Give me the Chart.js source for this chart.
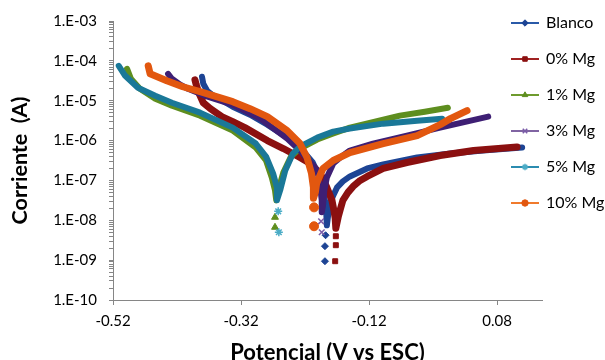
<!DOCTYPE html>
<html><head><meta charset="utf-8">
<script src="https://cdn.jsdelivr.net/npm/chart.js@4.4.1/dist/chart.umd.min.js"></script>
<style>html,body{margin:0;padding:0;background:#fff;}canvas{display:block;}</style>
</head><body>
<canvas id="c" width="605" height="360"></canvas>
<script>
const seriesNames = ['Blanco', '0% Mg', '1% Mg', '3% Mg', '5% Mg', '10% Mg'];
const xTickLabels = ['-0.52', '-0.32', '-0.12', '0.08'];
const yTickLabels = ['1.E-10', '1.E-09', '1.E-08', '1.E-07', '1.E-06', '1.E-05', '1.E-04', '1.E-03'];
const xTitle = 'Potencial (V vs ESC)';
const yTitle = 'Corriente  (A)';

// [potential (V), current (A)]
const blancoCathodic = [[-0.381,3.98e-5],[-0.379,2.66e-5],[-0.373,1.78e-5],[-0.365,1.41e-5],[-0.333,7.08e-6],[-0.306,4.47e-6],[-0.279,2.51e-6],[-0.248,1.19e-6],[-0.233,8.41e-7],[-0.208,2.82e-7],[-0.197,1.19e-7],[-0.192,6.31e-8],[-0.189,3.16e-8],[-0.187,1.58e-8],[-0.186,7.5e-9]];
const blancoAnodic = [[-0.184,1.33e-8],[-0.181,2.66e-8],[-0.176,4.22e-8],[-0.170,6.68e-8],[-0.161,9.44e-8],[-0.150,1.26e-7],[-0.123,2.0e-7],[-0.098,2.51e-7],[-0.045,3.76e-7],[0.007,4.73e-7],[0.058,5.62e-7],[0.119,6.68e-7]];
const blancoTail = [[-0.188,4.22e-9],[-0.189,2.24e-9],[-0.189,9.4e-10]];

const mg0Cathodic = [[-0.392,3.35e-5],[-0.390,2.51e-5],[-0.386,1.58e-5],[-0.379,8.91e-6],[-0.368,6.31e-6],[-0.350,3.98e-6],[-0.333,2.99e-6],[-0.314,2.11e-6],[-0.279,1.0e-6],[-0.254,6.31e-7],[-0.228,3.76e-7],[-0.212,2.66e-7],[-0.201,1.78e-7],[-0.193,1.19e-7],[-0.186,6.68e-8],[-0.178,3.16e-8],[-0.175,1.78e-8],[-0.173,1.12e-8],[-0.172,6.31e-9]];
const mg0Anodic = [[-0.168,1.26e-8],[-0.165,1.88e-8],[-0.161,3.16e-8],[-0.153,5.01e-8],[-0.145,7.08e-8],[-0.134,1.0e-7],[-0.123,1.26e-7],[-0.098,2.0e-7],[-0.061,2.82e-7],[-0.009,4.22e-7],[0.043,5.62e-7],[0.111,6.88e-7]];
const mg0Tail = [[-0.172,3.98e-9],[-0.172,2.37e-9],[-0.173,9.4e-10]];

const mg1Cathodic = [[-0.498,6.31e-5],[-0.492,3.55e-5],[-0.478,2.0e-5],[-0.454,1.12e-5],[-0.428,7.5e-6],[-0.384,4.22e-6],[-0.333,1.78e-6],[-0.297,6.68e-7],[-0.281,3.16e-7],[-0.272,1.19e-7],[-0.267,5.62e-8],[-0.265,3.16e-8]];
const mg1Anodic = [[-0.262,5.62e-8],[-0.254,1.58e-7],[-0.242,3.98e-7],[-0.228,6.31e-7],[-0.201,1.06e-6],[-0.176,1.5e-6],[-0.150,2.11e-6],[-0.111,2.99e-6],[-0.072,4.22e-6],[-0.033,5.31e-6],[0.003,6.68e-6]];
const mg1Tail = [[-0.267,1.19e-8],[-0.267,6.68e-9]];

const mg3Cathodic = [[-0.434,4.73e-5],[-0.428,3.55e-5],[-0.415,2.51e-5],[-0.403,2.0e-5],[-0.376,1.33e-5],[-0.333,7.94e-6],[-0.290,3.55e-6],[-0.248,1.12e-6],[-0.228,5.62e-7],[-0.217,3.55e-7],[-0.201,1.78e-7],[-0.197,8.41e-8],[-0.194,3.16e-8],[-0.194,1.58e-8]];
const mg3Anodic = [[-0.192,2.37e-8],[-0.190,5.62e-8],[-0.186,1.19e-7],[-0.176,2.66e-7],[-0.165,3.76e-7],[-0.150,5.62e-7],[-0.114,8.41e-7],[-0.061,1.33e-6],[-0.009,2.11e-6],[0.066,3.98e-6]];
const mg3Tail = [[-0.195,9.44e-9],[-0.194,5.01e-9]];

const mg5Cathodic = [[-0.511,7.5e-5],[-0.501,4.22e-5],[-0.481,2.11e-5],[-0.454,1.33e-5],[-0.428,8.91e-6],[-0.384,5.01e-6],[-0.333,2.11e-6],[-0.297,8.41e-7],[-0.281,3.98e-7],[-0.270,1.5e-7],[-0.264,6.68e-8],[-0.264,3.16e-8]];
const mg5Anodic = [[-0.259,5.62e-8],[-0.251,1.78e-7],[-0.239,4.73e-7],[-0.228,7.08e-7],[-0.201,1.19e-6],[-0.176,1.68e-6],[-0.150,2.0e-6],[-0.098,2.66e-6],[-0.045,3.16e-6],[-0.006,3.55e-6]];
const mg5Tail = [[-0.262,1.68e-8],[-0.261,5.01e-9]];

const mg10Cathodic = [[-0.465,7.5e-5],[-0.462,4.73e-5],[-0.436,3.16e-5],[-0.411,2.24e-5],[-0.384,1.68e-5],[-0.333,9.44e-6],[-0.306,6.31e-6],[-0.279,3.98e-6],[-0.248,1.78e-6],[-0.228,8.41e-7],[-0.217,3.76e-7],[-0.210,1.5e-7],[-0.207,6.68e-8],[-0.207,3.55e-8]];
const mg10Anodic = [[-0.204,5.01e-8],[-0.202,8.41e-8],[-0.192,2.0e-7],[-0.176,3.16e-7],[-0.150,5.01e-7],[-0.098,8.41e-7],[-0.045,1.33e-6],[-0.009,2.51e-6],[0.007,3.55e-6],[0.033,5.62e-6]];
const mg10Tail = [[-0.206,2.11e-8],[-0.206,7.08e-9]];

// ---- styles ----
const bandColors = ['#1D4494', '#8B1010', '#5E8E1F', '#3E1F74', '#1A7898', '#E2570F'];
const bandWidths = [6, 7, 6, 6, 6, 7];
const legendLineColors = ['#2A5AA8', '#A02222', '#6E9B2E', '#8064A2', '#2B8CB0', '#F07A2C'];
const markerStyles = ['rectRot', 'rect', 'triangle', 'crossRot', 'star', 'circle'];
const markerFill = ['#1D4494', '#8B1010', '#5E8E1F', '#7A5CA8', '#4BACC6', '#E2570F'];
const markerStroke = ['#1D4494', '#8B1010', '#5E8E1F', '#7A5CA8', '#4BACC6', '#E2570F'];
const markerRadius = [3.5, 3.5, 4, 4, 4, 4.5];
const markerBorderW = [1, 1, 1, 1.5, 1.5, 1];
const FONT = 'Lato, "Liberation Sans", sans-serif';

const branches = [
  [blancoCathodic, blancoAnodic, blancoTail],
  [mg0Cathodic, mg0Anodic, mg0Tail],
  [mg1Cathodic, mg1Anodic, mg1Tail],
  [mg3Cathodic, mg3Anodic, mg3Tail],
  [mg5Cathodic, mg5Anodic, mg5Tail],
  [mg10Cathodic, mg10Anodic, mg10Tail]
];

function makeDataset(i) {
  const [cath, anod, tail] = branches[i];
  const band = cath.concat(anod);
  const nBand = band.length;
  const pts = band.concat(tail).map(p => ({x: p[0], y: p[1]}));
  return {
    label: seriesNames[i],
    data: pts,
    order: seriesNames.length - i,
    showLine: true,
    tension: 0,
    borderColor: bandColors[i],
    backgroundColor: markerFill[i],
    borderWidth: bandWidths[i],
    borderCapStyle: 'round',
    borderJoinStyle: 'round',
    pointStyle: markerStyles[i],
    pointRadius: ctx => (ctx.dataIndex >= nBand ? markerRadius[i] : 0),
    pointHoverRadius: 0,
    pointBackgroundColor: markerFill[i],
    pointBorderColor: markerStroke[i],
    pointBorderWidth: markerBorderW[i],
    segment: {
      borderColor: ctx => (ctx.p1DataIndex >= nBand ? 'rgba(0,0,0,0)' : undefined)
    }
  };
}

function legendIcon(i) {
  const c = document.createElement('canvas');
  c.width = 28; c.height = 12;
  const g = c.getContext('2d');
  g.strokeStyle = legendLineColors[i];
  g.lineWidth = 2;
  g.beginPath(); g.moveTo(0, 6); g.lineTo(28, 6); g.stroke();
  g.fillStyle = markerFill[i];
  g.strokeStyle = markerStroke[i];
  g.lineWidth = markerBorderW[i];
  if (Chart.helpers && Chart.helpers.drawPoint) {
    Chart.helpers.drawPoint(g, {pointStyle: markerStyles[i], radius: 3.2, rotation: 0, borderWidth: markerBorderW[i]}, 14, 6);
  } else {
    g.beginPath(); g.arc(14, 6, 3, 0, Math.PI * 2); g.fill();
  }
  return c;
}

const xTickValues = xTickLabels.map(parseFloat);
const yMajorValues = yTickLabels.map(parseFloat);
const yTickValues = [];
for (let k = 0; k < yMajorValues.length - 1; k++) {
  for (let m = 1; m <= 9; m++) yTickValues.push(Number((m * yMajorValues[k]).toPrecision(3)));
}
yTickValues.push(yMajorValues[yMajorValues.length - 1]);

const legendShift = {
  id: 'legendShift',
  afterLayout(chart) {
    const lg = chart.legend;
    if (!lg) return;
    lg.left = 492; lg.right = 605;
    lg.top = -5; lg.bottom = 360;
  }
};

const axisGray = '#868686';

new Chart(document.getElementById('c'), {
  type: 'scatter',
  data: { datasets: seriesNames.map((_, i) => makeDataset(i)) },
  plugins: [legendShift],
  options: {
    responsive: false,
    animation: false,
    events: [],
    layout: { padding: { top: 20, right: 0, bottom: 0, left: 0 } },
    plugins: {
      tooltip: { enabled: false },
      legend: {
        position: 'right',
        align: 'start',
        maxWidth: 63,
        labels: {
          usePointStyle: true,
          pointStyleWidth: 26,
          padding: 20,
          color: '#000',
          font: { family: FONT, size: 16 },
          generateLabels: chart => chart.data.datasets.map((ds, i) => ({
            text: ds.label,
            pointStyle: legendIcon(i),
            fillStyle: 'rgba(0,0,0,0)',
            strokeStyle: 'rgba(0,0,0,0)',
            lineWidth: 0,
            hidden: false,
            datasetIndex: i,
            fontColor: '#000'
          }))
        }
      }
    },
    scales: {
      x: {
        type: 'linear',
        min: -0.52,
        max: 0.15,
        afterBuildTicks: s => { s.ticks = xTickValues.map(v => ({value: v})); },
        afterFit: s => { s.height = 60; },
        ticks: {
          autoSkip: false, maxRotation: 0, padding: 7, color: '#000',
          font: { family: FONT, size: 15 },
          callback: v => {
            const k = xTickValues.findIndex(t => Math.abs(t - v) < 1e-9);
            return k >= 0 ? xTickLabels[k] : '';
          }
        },
        grid: { drawOnChartArea: false, drawTicks: true, tickLength: 5, color: axisGray },
        border: { display: true, color: axisGray, width: 1 },
        title: {
          display: true, text: xTitle, color: '#000',
          font: { family: FONT, size: 22, weight: 'bold', lineHeight: 1 },
          padding: { top: 0, bottom: -4 }
        }
      },
      y: {
        type: 'logarithmic',
        min: 1e-10,
        max: 1e-3,
        afterBuildTicks: s => { s.ticks = yTickValues.map(v => ({value: v})); },
        afterFit: s => { s.width = 113; },
        ticks: {
          autoSkip: false, padding: 12, color: '#000',
          font: { family: FONT, size: 15 },
          callback: v => {
            const e = Math.log10(v);
            if (Math.abs(e - Math.round(e)) > 1e-6) return '';
            const k = yMajorValues.findIndex(t => Math.round(Math.log10(t)) === Math.round(e));
            return k >= 0 ? yTickLabels[k] : '';
          }
        },
        grid: { drawOnChartArea: false, drawTicks: true, tickLength: 4, color: axisGray },
        border: { display: true, color: axisGray, width: 1 },
        title: {
          display: true, text: yTitle, color: '#000',
          font: { family: FONT, size: 21.5, weight: 'bold', lineHeight: 1 },
          padding: { top: 9, bottom: 0 }
        }
      }
    }
  }
});
</script>
</body></html>
